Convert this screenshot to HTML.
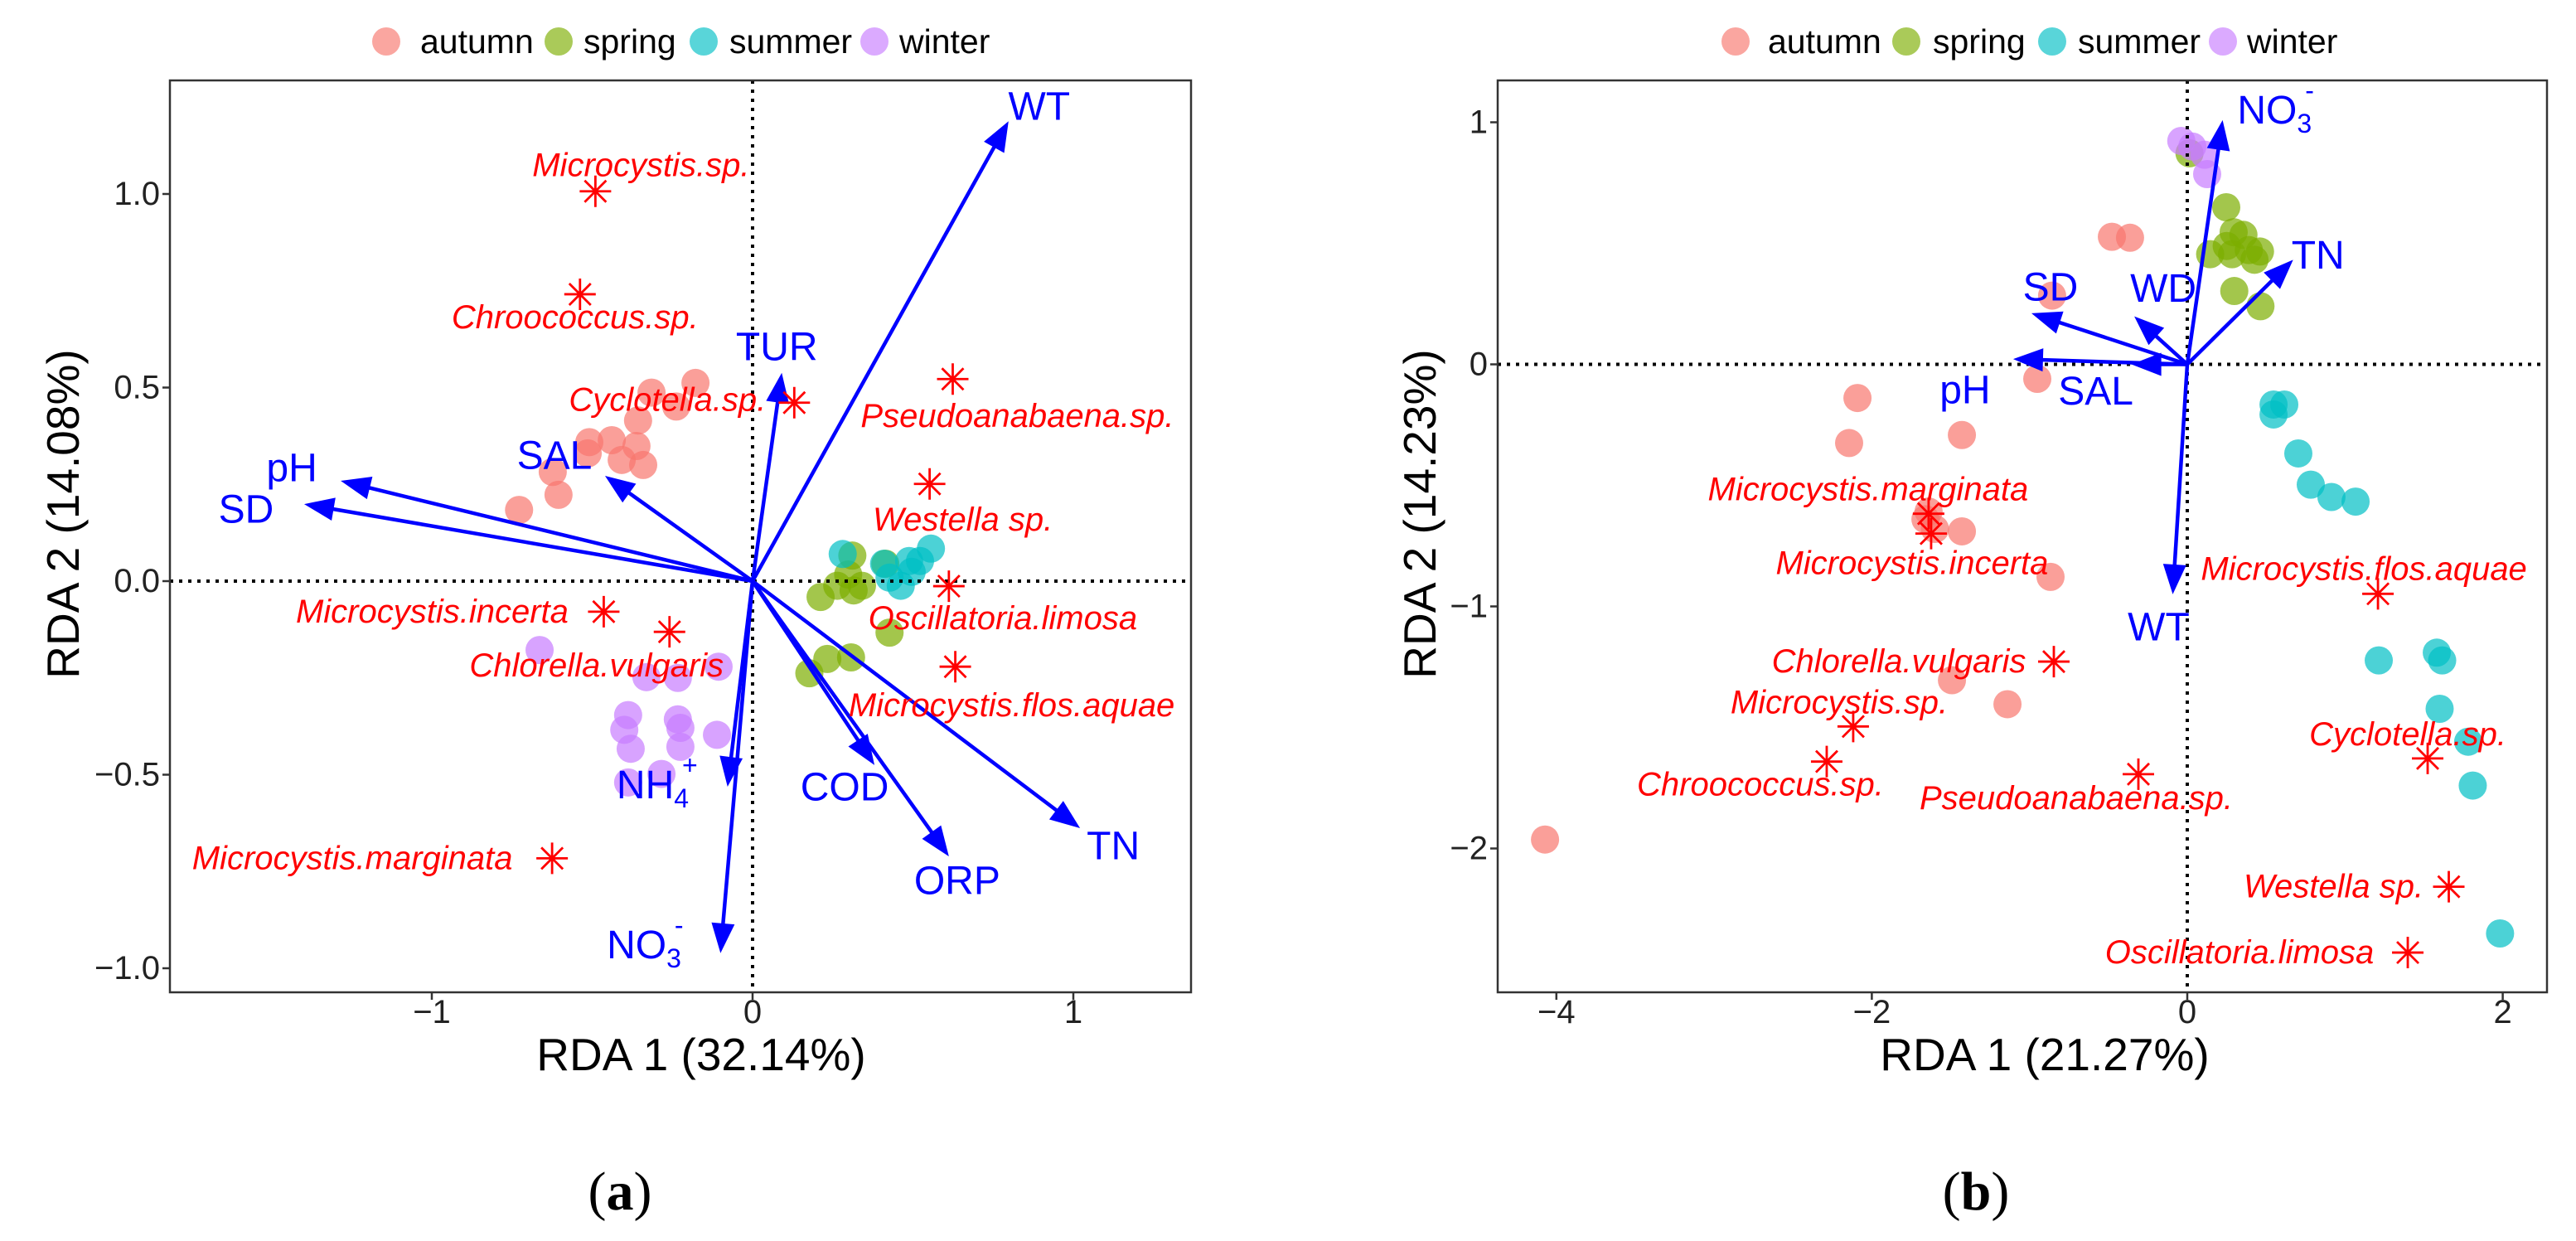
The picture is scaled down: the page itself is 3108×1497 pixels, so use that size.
<!DOCTYPE html>
<html><head><meta charset="utf-8"><style>
html,body{margin:0;padding:0;background:#fff;}
svg{display:block;font-family:"Liberation Sans",sans-serif;}
</style></head><body>
<svg id="fig" width="3108" height="1497" viewBox="0 0 3108 1497" xmlns="http://www.w3.org/2000/svg"></svg>
<script>
// ---------- Panel A data ----------
const seasons = ["autumn","spring","summer","winter"];
const seasonColors = ["#F8766D","#7CAE00","#00BFC4","#C77CFF"];
const aAutumn = [[-0.728,0.184],[-0.605,0.223],[-0.623,0.282],[-0.509,0.359],[-0.439,0.364],[-0.408,0.313],[-0.362,0.349],[-0.341,0.30],[-0.357,0.415],[-0.315,0.487],[-0.238,0.451],[-0.178,0.512],[-0.514,0.33]];
const aSpring = [[0.311,0.066],[0.298,0.017],[0.315,-0.024],[0.264,-0.012],[0.212,-0.041],[0.414,0.045],[0.427,-0.133],[0.233,-0.201],[0.307,-0.197],[0.177,-0.238],[0.341,-0.012]];
const aSummer = [[0.281,0.07],[0.488,0.052],[0.556,0.084],[0.427,0.009],[0.462,-0.012],[0.496,0.024],[0.522,0.052],[0.41,0.045]];
const aWinter = [[-0.664,-0.178],[-0.331,-0.248],[-0.233,-0.25],[-0.106,-0.221],[-0.388,-0.346],[-0.233,-0.357],[-0.4,-0.384],[-0.225,-0.379],[-0.38,-0.433],[-0.225,-0.428],[-0.111,-0.397],[-0.388,-0.52],[-0.284,-0.498]];
const aSpeciesNames = ["Microcystis.sp.","Chroococcus.sp.","Cyclotella.sp.","Pseudoanabaena.sp.","Westella sp.","Oscillatoria.limosa","Microcystis.incerta","Chlorella.vulgaris","Microcystis.flos.aquae","Microcystis.marginata"];
const aSpeciesX = [-0.49,-0.538,0.13,0.624,0.552,0.612,-0.464,-0.259,0.632,-0.625];
const aSpeciesY = [1.007,0.741,0.461,0.522,0.251,-0.013,-0.079,-0.131,-0.221,-0.716];
const aVectorNames = ["WT","TUR","SAL","pH","SD","NH4+","NO3-","COD","ORP","TN"];
const aVectorX = [0.798,0.091,-0.46,-1.284,-1.398,-0.078,-0.1,0.38,0.612,1.021];
const aVectorY = [1.188,0.538,0.272,0.259,0.199,-0.531,-0.961,-0.475,-0.711,-0.638];
const aXTicks = [-1,0,1];
const aXTickLabels = ["\u22121","0","1"];
const aYTicks = [1,0.5,0,-0.5,-1];
const aYTickLabels = ["1.0","0.5","0.0","\u22120.5","\u22121.0"];

// ---------- Panel B data ----------
const bAutumn = [[-0.363,0.523],[-0.478,0.527],[-0.857,0.284],[-0.951,-0.06],[-2.091,-0.139],[-2.144,-0.325],[-1.429,-0.292],[-1.64,-0.608],[-1.66,-0.64],[-1.6,-0.68],[-1.429,-0.69],[-0.867,-0.878],[-1.492,-1.305],[-1.14,-1.404],[-4.072,-1.963]];
const bSpring = [[0.014,0.872],[0.247,0.649],[0.294,0.546],[0.356,0.535],[0.25,0.489],[0.145,0.455],[0.284,0.455],[0.461,0.466],[0.426,0.432],[0.39,0.472],[0.298,0.303],[0.464,0.24]];
const bSummer = [[0.547,-0.166],[0.615,-0.166],[0.547,-0.207],[0.704,-0.368],[0.783,-0.497],[0.914,-0.548],[1.067,-0.567],[1.214,-1.223],[1.582,-1.191],[1.616,-1.223],[1.6,-1.423],[1.781,-1.559],[1.81,-1.74],[1.983,-2.351]];
const bWinter = [[-0.038,0.923],[0.032,0.9],[0.11,0.866],[0.126,0.786]];
const bSpeciesNames = ["Microcystis.marginata","Microcystis.incerta","Microcystis.flos.aquae","Chlorella.vulgaris","Microcystis.sp.","Chroococcus.sp.","Pseudoanabaena.sp.","Cyclotella.sp.","Westella sp.","Oscillatoria.limosa"];
const bSpeciesX = [-1.64,-1.624,1.209,-0.846,-2.118,-2.286,-0.31,1.524,1.658,1.398];
const bSpeciesY = [-0.617,-0.699,-0.948,-1.228,-1.496,-1.641,-1.693,-1.628,-2.158,-2.43];
const bVectorNames = ["NO3-","TN","WD","SD","pH","SAL","WT"];
const bVectorX = [0.224,0.671,-0.336,-0.988,-1.104,-0.354,-0.092];
const bVectorY = [1.009,0.432,0.198,0.211,0.022,0.0,-0.95];
const bXTicks = [-4,-2,0,2];
const bXTickLabels = ["\u22124","\u22122","0","2"];
const bYTicks = [1,0,-1,-2];
const bYTickLabels = ["1","0","\u22121","\u22122"];

// ---------- layout (pixel offsets for labels, not data) ----------
const aSpeciesLabelOffset = [[55,-31],[-6,28],[-153,-3],[78,45],[40,43],[65,39],[-207,0],[-88,41],[68,47],[-241,0]];
const aVectorLabelOffset = [[37,-17],[-6,-31],[-61,-24],[-59,-15],[-70,7],[-85,-2],[-91,-10],[-36,27],[10,30],[40,22]];
const bSpeciesLabelOffset = [[-73,-29],[-23,36],[-17,-30],[-187,0],[-17,-29],[-80,28],[-75,29],[-24,-29],[-139,0],[-203,0]];
const bVectorLabelOffset = [[64,-12],[30,-5],[35,-33],[23,-31],[-58,38],[-43,33],[-17,40]];

const NS = "http://www.w3.org/2000/svg";
const svg = document.getElementById("fig");
function mk(tag, attrs, parent){
  const e = document.createElementNS(NS, tag);
  for (const k in attrs) e.setAttribute(k, attrs[k]);
  (parent||svg).appendChild(e);
  return e;
}

function drawPanel(P){
  const g = mk("g", {});
  
  
  const sx = v => P.x0 + v * P.kx;
  const sy = v => P.y0 - v * P.ky;
  const lg = mk("g", {}, g);
  
  
  seasons.forEach((s,i)=>{
    const c = mk("circle", {cx:P.legDots[i], cy:50, r:17, fill:seasonColors[i], "fill-opacity":0.65}, lg);
    
    
    const t = mk("text", {x:P.legText[i], y:50, "font-size":41, "dominant-baseline":"central", fill:"#000"}, lg);
    t.textContent = s;
    
    
  });
  const pg = mk("g", {}, g);
  
  
  P.points.forEach((arr,i)=>{
    arr.forEach(p=>{
      const c = mk("circle", {cx:sx(p[0]), cy:sy(p[1]), r:17, fill:seasonColors[i], "fill-opacity":0.7}, pg);
      
      
    });
  });
  const hz = mk("line", {x1:P.left, x2:P.right, y1:sy(0), y2:sy(0), stroke:"#000", "stroke-width":4, "stroke-dasharray":"4 7"}, g);
  
  
  const vz = mk("line", {x1:sx(0), x2:sx(0), y1:P.top, y2:P.bottom, stroke:"#000", "stroke-width":4, "stroke-dasharray":"4 7"}, g);
  
  
  const fr = mk("rect", {x:P.left, y:P.top, width:P.right-P.left, height:P.bottom-P.top, fill:"none", stroke:"#333", "stroke-width":2.5}, g);
  
  
  P.xTicks.forEach((v,i)=>{
    const X = sx(v);
    const tl = mk("line", {x1:X, x2:X, y1:P.bottom, y2:P.bottom+9, stroke:"#333", "stroke-width":2.5}, g);
    
    
    const t = mk("text", {x:X, y:1221, "font-size":40, "text-anchor":"middle", "dominant-baseline":"central", fill:"#222"}, g);
    t.textContent = P.xTickLabels[i];
    
    
  });
  P.yTicks.forEach((v,i)=>{
    const Y = sy(v);
    const tl = mk("line", {x1:P.left-9, x2:P.left, y1:Y, y2:Y, stroke:"#333", "stroke-width":2.5}, g);
    
    
    const t = mk("text", {x:P.left-12, y:Y, "font-size":40, "text-anchor":"end", "dominant-baseline":"central", fill:"#222"}, g);
    t.textContent = P.yTickLabels[i];
    
    
  });
  const xt = mk("text", {x:P.xTitleX, y:1272, "font-size":55, "text-anchor":"middle", "dominant-baseline":"central", fill:"#000"}, g);
  xt.textContent = P.xTitle;
  
  
  const yt = mk("text", {x:0, y:0, "font-size":55, "text-anchor":"middle", "dominant-baseline":"central", fill:"#000", transform:"translate("+P.yTitleX+",620) rotate(-90)"}, g);
  yt.textContent = P.yTitle;
  
  
  const vg = mk("g", {}, g);
  
  
  P.vecNames.forEach((n,i)=>{
    const tx = sx(P.vecX[i]), ty = sy(P.vecY[i]);
    const ox = sx(0), oy = sy(0);
    const dx = tx-ox, dy = ty-oy, L = Math.hypot(dx,dy), ux = dx/L, uy = dy/L;
    const hl = 36, hw = 14;
    const bx = tx-ux*hl, by = ty-uy*hl;
    const ln = mk("line", {x1:ox, y1:oy, x2:bx+ux*4, y2:by+uy*4, stroke:"#0000FF", "stroke-width":4.5}, vg);
    
    
    const hd = mk("polygon", {points:[tx,ty, bx-uy*hw,by+ux*hw, bx+uy*hw,by-ux*hw].join(" "), fill:"#0000FF"}, vg);
    
    
    const off = P.vecOff[i];
    const t = mk("text", {x:tx+off[0], y:ty+off[1], "font-size":48, "text-anchor":"middle", "dominant-baseline":"central", fill:"#0000FF"}, vg);
    if (n === "NO3-" || n === "NH4+"){
      const a = mk("tspan", {}, t); a.textContent = n.slice(0,2);
      const b = mk("tspan", {"font-size":32, dy:16}, t); b.textContent = n.charAt(2);
      const c = mk("tspan", {"font-size":32, dx:-8, dy:-40}, t); c.textContent = n.charAt(3);
    } else {
      t.textContent = n;
    }
    
    
  });
  const sg = mk("g", {}, g);
  
  
  P.spNames.forEach((n,i)=>{
    const X = sx(P.spX[i]), Y = sy(P.spY[i]);
    const st = mk("path", {d:"M"+(X-19)+" "+Y+"H"+(X+19)+"M"+X+" "+(Y-19)+"V"+(Y+19)+"M"+(X-13)+" "+(Y-13)+"L"+(X+13)+" "+(Y+13)+"M"+(X-13)+" "+(Y+13)+"L"+(X+13)+" "+(Y-13), stroke:"#FF0000", "stroke-width":2.8, fill:"none"}, sg);
    
    
    const off = P.spOff[i];
    const t = mk("text", {x:X+off[0], y:Y+off[1], "font-size":40, "font-style":"italic", "text-anchor":"middle", "dominant-baseline":"central", fill:"#FF0000"}, sg);
    t.textContent = n;
    
    
  });
  const pt = mk("text", {x:P.tagX, y:1437, "font-size":66, "text-anchor":"middle", "dominant-baseline":"central", fill:"#000", "font-family":"Liberation Serif, serif"}, g);
  const p1 = mk("tspan", {}, pt); p1.textContent = "(";
  const p2 = mk("tspan", {"font-weight":"bold"}, pt); p2.textContent = P.tag;
  const p3 = mk("tspan", {}, pt); p3.textContent = ")";
  
  
}

drawPanel({id:"panel-a", x0:908, kx:387, y0:701, ky:467, left:205, right:1437, top:97, bottom:1197,
  legDots:[466,674,849,1055], legText:[507,704,880,1085],
  points:[aAutumn,aSpring,aSummer,aWinter],
  xTicks:aXTicks, xTickLabels:aXTickLabels, yTicks:aYTicks, yTickLabels:aYTickLabels,
  xTitle:"RDA 1 (32.14%)", xTitleX:846, yTitle:"RDA 2 (14.08%)", yTitleX:76,
  vecNames:aVectorNames, vecX:aVectorX, vecY:aVectorY, vecOff:aVectorLabelOffset,
  spNames:aSpeciesNames, spX:aSpeciesX, spY:aSpeciesY, spOff:aSpeciesLabelOffset,
  tag:"a", tagX:748});
drawPanel({id:"panel-b", x0:2639, kx:190.3, y0:439.5, ky:292, left:1807, right:3073, top:97, bottom:1197,
  legDots:[2094,2300,2476,2682], legText:[2133,2332,2507,2711],
  points:[bAutumn,bSpring,bSummer,bWinter],
  xTicks:bXTicks, xTickLabels:bXTickLabels, yTicks:bYTicks, yTickLabels:bYTickLabels,
  xTitle:"RDA 1 (21.27%)", xTitleX:2467, yTitle:"RDA 2 (14.23%)", yTitleX:1713,
  vecNames:bVectorNames, vecX:bVectorX, vecY:bVectorY, vecOff:bVectorLabelOffset,
  spNames:bSpeciesNames, spX:bSpeciesX, spY:bSpeciesY, spOff:bSpeciesLabelOffset,
  tag:"b", tagX:2384});
</script>
</body></html>
